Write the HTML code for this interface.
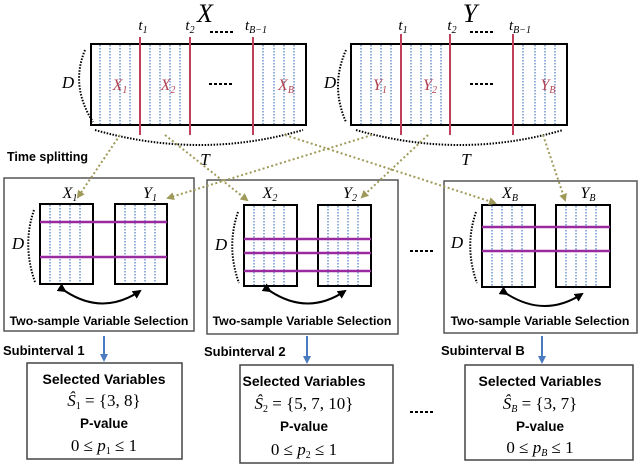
<!DOCTYPE html>
<html><head><meta charset="utf-8"><style>
html,body{margin:0;padding:0;background:#fff;}
svg{display:block;}
.s{font-family:"Liberation Sans",sans-serif;font-weight:bold;}
.m{font-family:"Liberation Serif",serif;font-style:italic;}
.r{font-family:"Liberation Serif",serif;}
</style></head><body>
<svg width="640" height="466" viewBox="0 0 640 466" xmlns="http://www.w3.org/2000/svg">
<defs>
<marker id="ol" markerWidth="8" markerHeight="8" refX="6" refY="4" orient="auto" markerUnits="userSpaceOnUse"><path d="M0,0 L8,4 L0,8 z" fill="#a09a5a"/></marker>
<marker id="bk" markerWidth="9" markerHeight="9" refX="7" refY="4.5" orient="auto" markerUnits="userSpaceOnUse"><path d="M0,0 L9,4.5 L0,9 z" fill="#000"/></marker>
<marker id="bl" markerWidth="8" markerHeight="8" refX="6" refY="4" orient="auto" markerUnits="userSpaceOnUse"><path d="M0,0 L8,4 L0,8 z" fill="#4a7ac0"/></marker>
</defs>

<!-- top X -->
<text x="205" y="22" class="m" font-size="26" text-anchor="middle">X</text>
<text x="143" y="30" class="m" font-size="15" text-anchor="middle">t<tspan font-size="10" dy="3">1</tspan></text>
<text x="190" y="30" class="m" font-size="15" text-anchor="middle">t<tspan font-size="10" dy="3">2</tspan></text>
<text x="256" y="30" class="m" font-size="15" text-anchor="middle">t<tspan font-size="10" dy="3">B−1</tspan></text>
<line x1="210" y1="32" x2="233" y2="32" stroke="#000" stroke-width="2" stroke-dasharray="3,2"/>
<rect x="91" y="44" width="215" height="81" fill="#fff" stroke="#000" stroke-width="2"/>
<g stroke="#4a7ac0" stroke-width="1.2" stroke-dasharray="1.5,1.5">
<line x1="100" y1="45" x2="100" y2="124"/><line x1="110" y1="45" x2="110" y2="124"/><line x1="120" y1="45" x2="120" y2="124"/><line x1="130" y1="45" x2="130" y2="124"/>
<line x1="150" y1="45" x2="150" y2="124"/><line x1="160" y1="45" x2="160" y2="124"/><line x1="170" y1="45" x2="170" y2="124"/><line x1="180" y1="45" x2="180" y2="124"/>
<line x1="263" y1="45" x2="263" y2="124"/><line x1="274" y1="45" x2="274" y2="124"/><line x1="284" y1="45" x2="284" y2="124"/><line x1="294" y1="45" x2="294" y2="124"/>
</g>
<g stroke="#c0405a" stroke-width="2"><line x1="140" y1="37" x2="140" y2="135"/><line x1="190" y1="37" x2="190" y2="135"/><line x1="253" y1="37" x2="253" y2="135"/></g>
<text x="120" y="90" class="m" font-size="16" fill="#b04050" text-anchor="middle">X<tspan font-size="10" dy="3">1</tspan></text>
<text x="168" y="90" class="m" font-size="16" fill="#b04050" text-anchor="middle">X<tspan font-size="10" dy="3">2</tspan></text>
<line x1="209" y1="84" x2="232" y2="84" stroke="#000" stroke-width="2" stroke-dasharray="3,2"/>
<text x="286" y="90" class="m" font-size="16" fill="#b04050" text-anchor="middle">X<tspan font-size="10" dy="3">B</tspan></text>
<text x="68" y="88" class="m" font-size="17" text-anchor="middle">D</text>
<path d="M85,50 Q70,86 93,122" fill="none" stroke="#000" stroke-width="2" stroke-dasharray="1.5,1.5"/>
<path d="M95,130 Q200,160 303,130" fill="none" stroke="#000" stroke-width="2" stroke-dasharray="1.5,1.5"/>
<text x="205" y="165" class="m" font-size="17" text-anchor="middle">T</text>

<!-- top Y -->
<text x="470" y="22" class="m" font-size="26" text-anchor="middle">Y</text>
<text x="403" y="30" class="m" font-size="15" text-anchor="middle">t<tspan font-size="10" dy="3">1</tspan></text>
<text x="452" y="30" class="m" font-size="15" text-anchor="middle">t<tspan font-size="10" dy="3">2</tspan></text>
<text x="520" y="30" class="m" font-size="15" text-anchor="middle">t<tspan font-size="10" dy="3">B−1</tspan></text>
<line x1="470" y1="32" x2="494" y2="32" stroke="#000" stroke-width="2" stroke-dasharray="3,2"/>
<rect x="351" y="44" width="216" height="81" fill="#fff" stroke="#000" stroke-width="2"/>
<g stroke="#4a7ac0" stroke-width="1.2" stroke-dasharray="1.5,1.5">
<line x1="361" y1="45" x2="361" y2="124"/><line x1="371" y1="45" x2="371" y2="124"/><line x1="381" y1="45" x2="381" y2="124"/><line x1="391" y1="45" x2="391" y2="124"/>
<line x1="411" y1="45" x2="411" y2="124"/><line x1="421" y1="45" x2="421" y2="124"/><line x1="431" y1="45" x2="431" y2="124"/><line x1="441" y1="45" x2="441" y2="124"/>
<line x1="523" y1="45" x2="523" y2="124"/><line x1="535" y1="45" x2="535" y2="124"/><line x1="545" y1="45" x2="545" y2="124"/><line x1="555" y1="45" x2="555" y2="124"/>
</g>
<g stroke="#c0405a" stroke-width="2"><line x1="401" y1="34" x2="401" y2="135"/><line x1="450" y1="34" x2="450" y2="135"/><line x1="513" y1="34" x2="513" y2="135"/></g>
<text x="380" y="90" class="m" font-size="16" fill="#b04050" text-anchor="middle">Y<tspan font-size="10" dy="3">1</tspan></text>
<text x="430" y="90" class="m" font-size="16" fill="#b04050" text-anchor="middle">Y<tspan font-size="10" dy="3">2</tspan></text>
<line x1="470" y1="84" x2="494" y2="84" stroke="#000" stroke-width="2" stroke-dasharray="3,2"/>
<text x="548" y="90" class="m" font-size="16" fill="#b04050" text-anchor="middle">Y<tspan font-size="10" dy="3">B</tspan></text>
<text x="330" y="88" class="m" font-size="17" text-anchor="middle">D</text>
<path d="M346,50 Q330,86 346,122" fill="none" stroke="#000" stroke-width="2" stroke-dasharray="1.5,1.5"/>
<path d="M356,130 Q460,160 563,130" fill="none" stroke="#000" stroke-width="2" stroke-dasharray="1.5,1.5"/>
<text x="466" y="165" class="m" font-size="17" text-anchor="middle">T</text>

<text x="7" y="161" class="s" font-size="12.5">Time splitting</text>

<!-- panels -->
<g fill="#fff" stroke="#555" stroke-width="1.5">
<rect x="4" y="178" width="190" height="153"/>
<rect x="207" y="180" width="191" height="154"/>
<rect x="444" y="181" width="193" height="152"/>
</g>

<!-- panel 1 -->
<text x="70" y="198" class="m" font-size="16" text-anchor="middle">X<tspan font-size="10" dy="3">1</tspan></text>
<text x="150" y="198" class="m" font-size="16" text-anchor="middle">Y<tspan font-size="10" dy="3">1</tspan></text>
<rect x="40" y="204" width="53" height="80" fill="#fff" stroke="#000" stroke-width="2"/>
<rect x="115" y="204" width="52" height="80" fill="#fff" stroke="#000" stroke-width="2"/>
<g stroke="#4a7ac0" stroke-width="1.2" stroke-dasharray="1.5,1.5">
<line x1="50" y1="205" x2="50" y2="283"/><line x1="60" y1="205" x2="60" y2="283"/><line x1="70" y1="205" x2="70" y2="283"/><line x1="80" y1="205" x2="80" y2="283"/>
<line x1="125" y1="205" x2="125" y2="283"/><line x1="135" y1="205" x2="135" y2="283"/><line x1="145" y1="205" x2="145" y2="283"/><line x1="155" y1="205" x2="155" y2="283"/>
</g>
<g stroke="#9a2aa0" stroke-width="2.5"><line x1="40" y1="222" x2="167" y2="222"/><line x1="40" y1="257" x2="167" y2="257"/></g>
<text x="18" y="249" class="m" font-size="17" text-anchor="middle">D</text>
<path d="M34,210 Q22,245 35,282" fill="none" stroke="#000" stroke-width="2" stroke-dasharray="1.5,1.5"/>
<path d="M65,291 Q103,316 140,291" fill="none" stroke="#000" stroke-width="2" marker-start="url(#bk)" marker-end="url(#bk)"/>
<text x="99" y="325" class="s" font-size="12.3" text-anchor="middle">Two-sample Variable Selection</text>

<!-- panel 2 -->
<text x="270" y="198" class="m" font-size="16" text-anchor="middle">X<tspan font-size="10" dy="3">2</tspan></text>
<text x="350" y="198" class="m" font-size="16" text-anchor="middle">Y<tspan font-size="10" dy="3">2</tspan></text>
<rect x="244" y="205" width="53" height="81" fill="#fff" stroke="#000" stroke-width="2"/>
<rect x="318" y="205" width="53" height="81" fill="#fff" stroke="#000" stroke-width="2"/>
<g stroke="#4a7ac0" stroke-width="1.2" stroke-dasharray="1.5,1.5">
<line x1="254" y1="206" x2="254" y2="285"/><line x1="264" y1="206" x2="264" y2="285"/><line x1="274" y1="206" x2="274" y2="285"/><line x1="284" y1="206" x2="284" y2="285"/>
<line x1="328" y1="206" x2="328" y2="285"/><line x1="338" y1="206" x2="338" y2="285"/><line x1="348" y1="206" x2="348" y2="285"/><line x1="358" y1="206" x2="358" y2="285"/>
</g>
<g stroke="#9a2aa0" stroke-width="2.5"><line x1="244" y1="239" x2="371" y2="239"/><line x1="244" y1="253" x2="371" y2="253"/><line x1="244" y1="271" x2="371" y2="271"/></g>
<text x="221" y="250" class="m" font-size="17" text-anchor="middle">D</text>
<path d="M238,212 Q226,247 239,283" fill="none" stroke="#000" stroke-width="2" stroke-dasharray="1.5,1.5"/>
<path d="M270,291 Q308,316 345,291" fill="none" stroke="#000" stroke-width="2" marker-start="url(#bk)" marker-end="url(#bk)"/>
<text x="302" y="325" class="s" font-size="12.3" text-anchor="middle">Two-sample Variable Selection</text>
<line x1="410" y1="251" x2="435" y2="251" stroke="#000" stroke-width="2" stroke-dasharray="3,2"/>

<!-- panel 3 -->
<text x="510" y="198" class="m" font-size="16" text-anchor="middle">X<tspan font-size="10" dy="3">B</tspan></text>
<text x="588" y="198" class="m" font-size="16" text-anchor="middle">Y<tspan font-size="10" dy="3">B</tspan></text>
<rect x="482" y="205" width="53" height="82" fill="#fff" stroke="#000" stroke-width="2"/>
<rect x="556" y="205" width="54" height="82" fill="#fff" stroke="#000" stroke-width="2"/>
<g stroke="#4a7ac0" stroke-width="1.2" stroke-dasharray="1.5,1.5">
<line x1="492" y1="206" x2="492" y2="286"/><line x1="502" y1="206" x2="502" y2="286"/><line x1="512" y1="206" x2="512" y2="286"/><line x1="522" y1="206" x2="522" y2="286"/>
<line x1="566" y1="206" x2="566" y2="286"/><line x1="576" y1="206" x2="576" y2="286"/><line x1="586" y1="206" x2="586" y2="286"/><line x1="596" y1="206" x2="596" y2="286"/>
</g>
<g stroke="#9a2aa0" stroke-width="2.5"><line x1="482" y1="227" x2="610" y2="227"/><line x1="482" y1="251" x2="610" y2="251"/></g>
<text x="457" y="248" class="m" font-size="17" text-anchor="middle">D</text>
<path d="M476,212 Q464,247 477,283" fill="none" stroke="#000" stroke-width="2" stroke-dasharray="1.5,1.5"/>
<path d="M507,294 Q545,318 582,294" fill="none" stroke="#000" stroke-width="2" marker-start="url(#bk)" marker-end="url(#bk)"/>
<text x="540" y="325" class="s" font-size="12.3" text-anchor="middle">Two-sample Variable Selection</text>

<!-- olive arrows -->
<g stroke="#a09a5a" stroke-width="2" stroke-dasharray="2,2.5" fill="none" marker-end="url(#ol)">
<line x1="120" y1="135" x2="78" y2="197"/>
<line x1="165" y1="135" x2="247" y2="200"/>
<line x1="285" y1="135" x2="495" y2="203"/>
<line x1="372" y1="135" x2="168" y2="198"/>
<line x1="428" y1="135" x2="362" y2="197"/>
<line x1="543" y1="135" x2="565" y2="200"/>
</g>

<!-- subintervals -->
<text x="3" y="355" class="s" font-size="13">Subinterval 1</text>
<text x="204" y="356" class="s" font-size="13">Subinterval 2</text>
<text x="441" y="355" class="s" font-size="13">Subinterval B</text>
<g stroke="#4a7ac0" stroke-width="2" marker-end="url(#bl)">
<line x1="104" y1="336" x2="104" y2="360"/>
<line x1="307" y1="336" x2="307" y2="362"/>
<line x1="542" y1="336" x2="542" y2="362"/>
</g>

<!-- result boxes -->
<g fill="#fff" stroke="#444" stroke-width="1.5">
<rect x="27" y="363" width="155" height="96"/>
<rect x="240" y="365" width="153" height="98"/>
<rect x="465" y="365" width="168" height="95"/>
</g>
<g text-anchor="middle">
<text x="104" y="384" class="s" font-size="14">Selected Variables</text>
<text x="104" y="406" class="r" font-size="17"><tspan class="m">Ŝ</tspan><tspan font-size="10" dy="3">1</tspan><tspan dy="-3"> = {3, 8}</tspan></text>
<text x="104" y="428" class="s" font-size="13.5">P-value</text>
<text x="104" y="451" class="r" font-size="17">0 ≤ <tspan class="m">p</tspan><tspan font-size="10" dy="3">1</tspan><tspan dy="-3"> ≤ 1</tspan></text>

<text x="304" y="386" class="s" font-size="14">Selected Variables</text>
<text x="304" y="409" class="r" font-size="17"><tspan class="m">Ŝ</tspan><tspan font-size="10" dy="3">2</tspan><tspan dy="-3"> = {5, 7, 10}</tspan></text>
<text x="304" y="431" class="s" font-size="13.5">P-value</text>
<text x="304" y="455" class="r" font-size="17">0 ≤ <tspan class="m">p</tspan><tspan font-size="10" dy="3">2</tspan><tspan dy="-3"> ≤ 1</tspan></text>

<text x="540" y="386" class="s" font-size="14">Selected Variables</text>
<text x="540" y="409" class="r" font-size="17"><tspan class="m">Ŝ</tspan><tspan font-size="10" dy="3" class="m">B</tspan><tspan dy="-3"> = {3, 7}</tspan></text>
<text x="540" y="431" class="s" font-size="13.5">P-value</text>
<text x="540" y="453" class="r" font-size="17">0 ≤ <tspan class="m">p</tspan><tspan font-size="10" dy="3" class="m">B</tspan><tspan dy="-3"> ≤ 1</tspan></text>
</g>
<line x1="410" y1="412" x2="435" y2="412" stroke="#000" stroke-width="2" stroke-dasharray="3,2"/>
</svg>
</body></html>
